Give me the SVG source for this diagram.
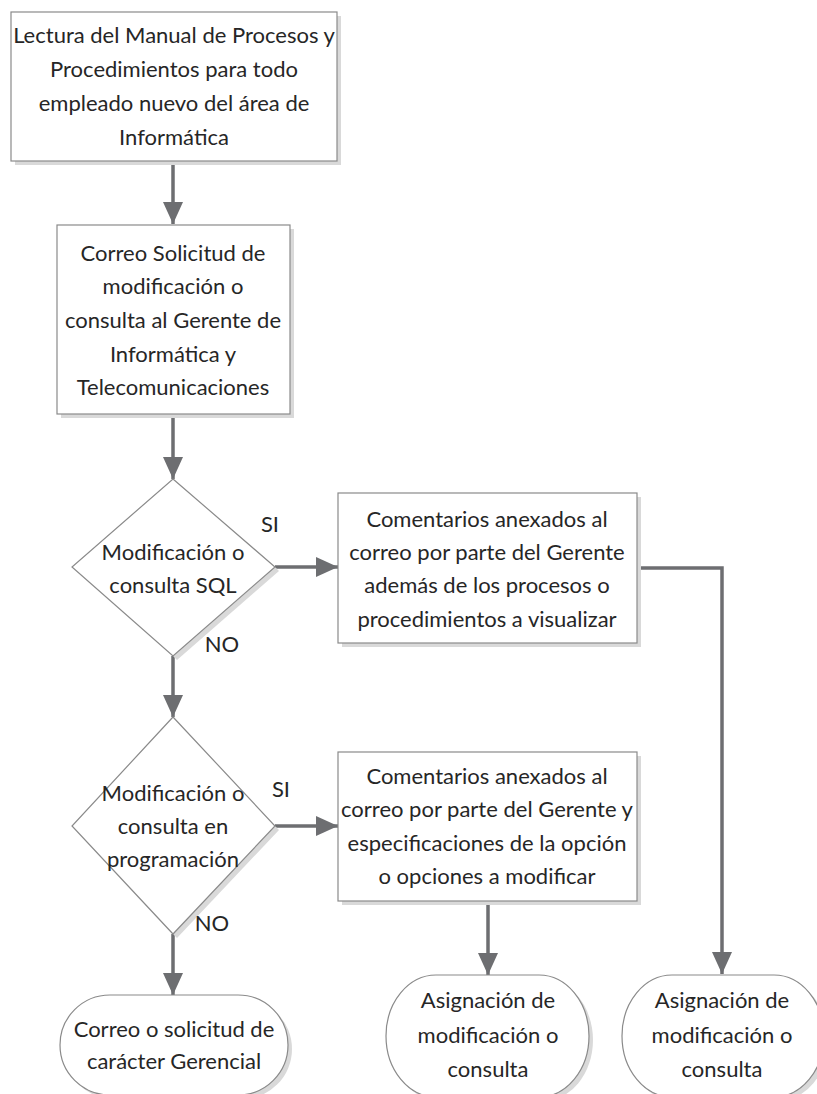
<svg xmlns="http://www.w3.org/2000/svg" width="817" height="1094" viewBox="0 0 817 1094">
<defs>
<style>
.shape{fill:#ffffff;stroke:#8a8a8a;stroke-width:1.2}
.shadow{fill:#d9d9d9;stroke:none}
.t{font-family:Lato,"Liberation Sans",sans-serif;font-size:22px;fill:#262626;text-anchor:middle}
.conn{fill:none;stroke:#6d6e71;stroke-width:3.5}
</style>
<marker id="arr" viewBox="0 0 22 20" refX="22" refY="10" markerWidth="22" markerHeight="20" markerUnits="userSpaceOnUse" orient="auto">
<path d="M0,0 L22,10 L0,20 Z" fill="#6d6e71"/>
</marker>
</defs>
<rect width="817" height="1094" fill="#ffffff"/>

<g id="connectors">
<line class="conn" x1="173" y1="161" x2="173" y2="224" marker-end="url(#arr)"/>
<line class="conn" x1="173" y1="414" x2="173" y2="479" marker-end="url(#arr)"/>
<line class="conn" x1="275" y1="567" x2="338" y2="567" marker-end="url(#arr)"/>
<polyline class="conn" points="637,568 722,568 722,974" marker-end="url(#arr)"/>
<line class="conn" x1="173" y1="656" x2="173" y2="717" marker-end="url(#arr)"/>
<line class="conn" x1="275" y1="826" x2="338" y2="826" marker-end="url(#arr)"/>
<line class="conn" x1="488" y1="901" x2="488" y2="975" marker-end="url(#arr)"/>
<line class="conn" x1="173" y1="934" x2="173" y2="995" marker-end="url(#arr)"/>
</g>

<g id="n1">
<rect class="shadow" x="15" y="16" width="326" height="149"/>
<rect class="shape" x="11" y="12" width="326" height="149"/>
<text class="t" x="174" y="43">Lectura del Manual de Procesos y</text>
<text class="t" x="174" y="77">Procedimientos para todo</text>
<text class="t" x="174" y="111">empleado nuevo del área de</text>
<text class="t" x="174" y="145">Informática</text>
</g>

<g id="n2">
<rect class="shadow" x="61" y="229" width="233" height="189"/>
<rect class="shape" x="57" y="225" width="233" height="189"/>
<text class="t" x="173" y="261">Correo Solicitud de</text>
<text class="t" x="173" y="294">modificación o</text>
<text class="t" x="173" y="328">consulta al Gerente de</text>
<text class="t" x="173" y="362">Informática y</text>
<text class="t" x="173" y="395">Telecomunicaciones</text>
</g>

<g id="d1">
<polygon class="shadow" points="275,567 279,571 177,660 173,656"/>
<polygon class="shape" points="173,479 275,567 173,656 72,567"/>
<text class="t" x="173" y="560">Modificación o</text>
<text class="t" x="173" y="593">consulta SQL</text>
<text class="t" x="270" y="532">SI</text>
<text class="t" x="222" y="652">NO</text>
</g>

<g id="n3">
<rect class="shadow" x="342" y="497" width="299" height="150"/>
<rect class="shape" x="338" y="493" width="299" height="150"/>
<text class="t" x="487" y="527">Comentarios anexados al</text>
<text class="t" x="487" y="560">correo por parte del Gerente</text>
<text class="t" x="487" y="593">además de los procesos o</text>
<text class="t" x="487" y="627">procedimientos a visualizar</text>
</g>

<g id="d2">
<polygon class="shadow" points="275,826 279,830 177,938 173,934"/>
<polygon class="shape" points="173,717 275,826 173,934 72,826"/>
<text class="t" x="173" y="801">Modificación o</text>
<text class="t" x="173" y="834">consulta en</text>
<text class="t" x="173" y="867">programación</text>
<text class="t" x="281" y="797">SI</text>
<text class="t" x="212" y="931">NO</text>
</g>

<g id="n4">
<rect class="shadow" x="342" y="756" width="299" height="149"/>
<rect class="shape" x="338" y="752" width="299" height="149"/>
<text class="t" x="487" y="784">Comentarios anexados al</text>
<text class="t" x="487" y="817">correo por parte del Gerente y</text>
<text class="t" x="487" y="851">especificaciones de la opción</text>
<text class="t" x="487" y="884">o opciones a modificar</text>
</g>

<g id="t1">
<rect class="shadow" x="64" y="999" width="228" height="100" rx="50" ry="50"/>
<rect class="shape" x="60" y="995" width="228" height="100" rx="50" ry="50"/>
<text class="t" x="174" y="1037">Correo o solicitud de</text>
<text class="t" x="174" y="1069">carácter Gerencial</text>
</g>

<g id="t2">
<rect class="shadow" x="390" y="979" width="203" height="122" rx="50" ry="61"/>
<rect class="shape" x="386" y="975" width="203" height="122" rx="50" ry="61"/>
<text class="t" x="488" y="1008">Asignación de</text>
<text class="t" x="488" y="1043">modificación o</text>
<text class="t" x="488" y="1077">consulta</text>
</g>

<g id="t3">
<rect class="shadow" x="626" y="979" width="202" height="122" rx="50" ry="61"/>
<rect class="shape" x="622" y="975" width="202" height="122" rx="50" ry="61"/>
<text class="t" x="722" y="1008">Asignación de</text>
<text class="t" x="722" y="1043">modificación o</text>
<text class="t" x="722" y="1077">consulta</text>
</g>
</svg>
